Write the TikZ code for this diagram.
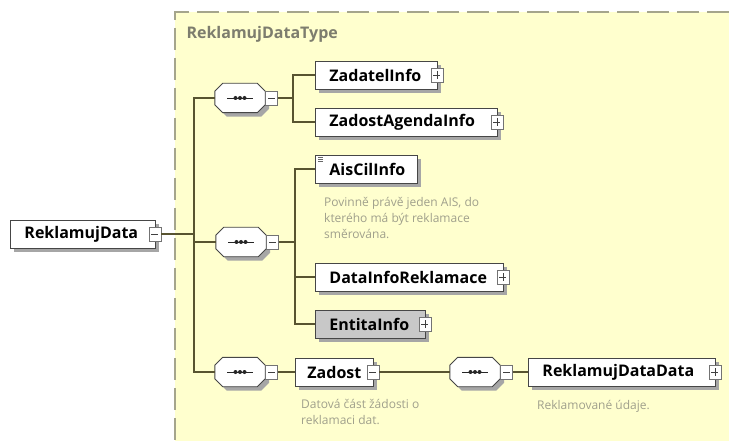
\documentclass[tikz,border=0pt]{standalone}
\usepackage{fontspec}
\setmainfont{Open Sans}
\usetikzlibrary{shadows}

\definecolor{schemabg}{RGB}{255,255,206}
\definecolor{schemaedge}{RGB}{165,165,140}
\definecolor{wire}{RGB}{88,84,48}
\definecolor{titlegray}{RGB}{125,125,110}
\definecolor{docgray}{RGB}{160,160,140}
\definecolor{boxedge}{RGB}{70,70,70}
\definecolor{entitafill}{RGB}{200,200,200}

\tikzset{
	elem/.style={draw=boxedge, fill=white, line width=0.9pt, minimum height=28pt,
		inner xsep=14pt, inner ysep=0pt, align=left, anchor=west,
		font=\fontsize{16}{19}\selectfont\bfseries,
		general shadow={fill=black!35, shadow xshift=4pt, shadow yshift=-4pt}},
	btn/.style={draw=black!55, fill=white, line width=0.6pt, minimum width=12pt,
		minimum height=14pt, inner sep=0pt},
	plus/.style={btn, path picture={\draw[black!75, line width=0.7pt]
		([xshift=2.5pt]path picture bounding box.west) -- ([xshift=-2.5pt]path picture bounding box.east)
		([yshift=-3pt]path picture bounding box.north) -- ([yshift=3pt]path picture bounding box.south);}},
	minus/.style={btn, path picture={\draw[black!75, line width=0.7pt]
		([xshift=2.5pt]path picture bounding box.west) -- ([xshift=-2.5pt]path picture bounding box.east);}},
	seq/.style={rectangle, minimum width=50pt, minimum height=29pt, inner sep=0pt},
	seqline/.style={draw=boxedge, fill=white, line width=0.9pt},
	conn/.style={draw=wire, line width=1.3pt},
	doc/.style={anchor=north west, align=left, text=docgray, inner sep=0pt,
		font=\fontsize{12}{16}\selectfont}
}

\begin{document}
\begin{tikzpicture}[x=1pt,y=-1pt]
			
			\useasboundingbox (0,0) rectangle (729,441);
			\fill[white] (0,0) rectangle (729,441);
			\fill[schemabg] (175,12) rectangle (729,441);
			\draw[schemaedge, line width=1.5pt, dash pattern=on 22pt off 8pt] (729,12) -- (175,12) -- (175,441);
			
			\node[anchor=west, text=titlegray, font=\fontsize{16}{19}\selectfont\bfseries]
			(TypeTitle) at (183,34) {ReklamujDataType};
			
			\node[seq] (Seq1) at (240,98) {};
			\node[seq] (Seq2) at (241,242) {};
			\node[seq] (Seq3) at (240,372) {};
			\node[seq] (Seq4) at (475,372) {};
			
			\foreach \s in {Seq1,Seq2,Seq3,Seq4} {
				\fill[black!35, transform canvas={shift={(4pt,-4pt)}}]
					([xshift=8pt]\s.north west) -- ([xshift=-8pt]\s.north east) -- ([yshift=-8pt]\s.north east)
					-- ([yshift=8pt]\s.south east) -- ([xshift=-8pt]\s.south east) -- ([xshift=8pt]\s.south west)
					-- ([yshift=8pt]\s.south west) -- ([yshift=-8pt]\s.north west) -- cycle;
				\draw[seqline]
					([xshift=8pt]\s.north west) -- ([xshift=-8pt]\s.north east) -- ([yshift=-8pt]\s.north east)
					-- ([yshift=8pt]\s.south east) -- ([xshift=-8pt]\s.south east) -- ([xshift=8pt]\s.south west)
					-- ([yshift=8pt]\s.south west) -- ([yshift=-8pt]\s.north west) -- cycle;
				\draw[black!85, line width=0.9pt] ([xshift=-13pt]\s.center) -- ([xshift=13pt]\s.center);
				\foreach \d in {-4.5,0,4.5}
					\fill[black!85] ([xshift=\d pt]\s.center) circle (2pt);
			}
			
			\node[minus, anchor=west]
			(S1btn) at (Seq1.east) {};
			\node[minus, anchor=west]
			(S2btn) at (Seq2.east) {};
			\node[minus, anchor=west]
			(S3btn) at (Seq3.east) {};
			\node[minus, anchor=west]
			(S4btn) at (Seq4.east) {};
			
			\node[elem, text width=117pt]
			(RD) at (10,234) {ReklamujData};
			\node[minus]
			(RDbtn) at ([xshift=-1pt]RD.east) {};
			
			\coordinate (Trunk) at (194,234);
			\coordinate (Fork1) at (293,98);
			\coordinate (Fork2) at (295,242);
			
			\node[elem, text width=94pt]
			(Zadatel) at (315,75) {ZadatelInfo};
			\node[plus]
			(ZadatelBtn) at ([xshift=-1pt]Zadatel.east) {};
			
			\node[elem, text width=154pt]
			(ZadostAgenda) at (315,122) {ZadostAgendaInfo};
			\node[plus]
			(ZadostAgendaBtn) at ([xshift=-1pt]ZadostAgenda.east) {};
			
			\node[elem, text width=74pt]
			(AisCil) at (315,169) {AisCilInfo};
			\foreach \k in {0,1,2}
				\draw[black!60, line width=0.6pt] ([shift={(3,3+2*\k)}]AisCil.north west) -- ++(5,0);
			
			\node[doc]
			(AisCilDoc) at (324,197) {Povinně právě jeden AIS, do\\kterého má být reklamace\\směrována.};
			
			\node[elem, text width=160pt]
			(DataInfo) at (315,277) {DataInfoReklamace};
			\node[plus]
			(DataInfoBtn) at ([xshift=-1pt]DataInfo.east) {};
			
			\node[elem, fill=entitafill, text width=82pt]
			(Entita) at (315,324) {EntitaInfo};
			\node[plus]
			(EntitaBtn) at ([xshift=-1pt]Entita.east) {};
			
			\node[elem, inner xsep=12pt, text width=54pt]
			(Zadost) at (295,372) {Zadost};
			\node[minus]
			(ZadostBtn) at ([xshift=-1pt]Zadost.east) {};
			
			\node[doc]
			(ZadostDoc) at (301,399) {Datová část žádosti o\\reklamaci dat.};
			
			\node[elem, text width=159pt]
			(RDD) at (528,372) {ReklamujDataData};
			\node[plus]
			(RDDBtn) at ([xshift=-1pt]RDD.east) {};
			
			\node[doc]
			(RDDDoc) at (537,400) {Reklamované údaje.};
			
			\draw[conn] (RDbtn.east) -- (Trunk);
			\draw[conn] (Seq1.west) -| (Trunk) |- (Seq2.west);
			\draw[conn] (Trunk) |- (Seq3.west);
			
			\draw[conn] (S1btn.east) -- (Fork1);
			\draw[conn] (Zadatel.west) -| (Fork1) |- (ZadostAgenda.west);
			
			\draw[conn] (S2btn.east) -- (Fork2);
			\draw[conn] (AisCil.west) -| (Fork2) |- (Entita.west);
			\draw[conn] (Fork2) |- (DataInfo.west);
			
			\draw[conn] (S3btn.east) -- (Zadost.west);
			\draw[conn] (ZadostBtn.east) -- (Seq4.west);
			\draw[conn] (S4btn.east) -- (RDD.west);
			
		\end{tikzpicture}
\end{document}
